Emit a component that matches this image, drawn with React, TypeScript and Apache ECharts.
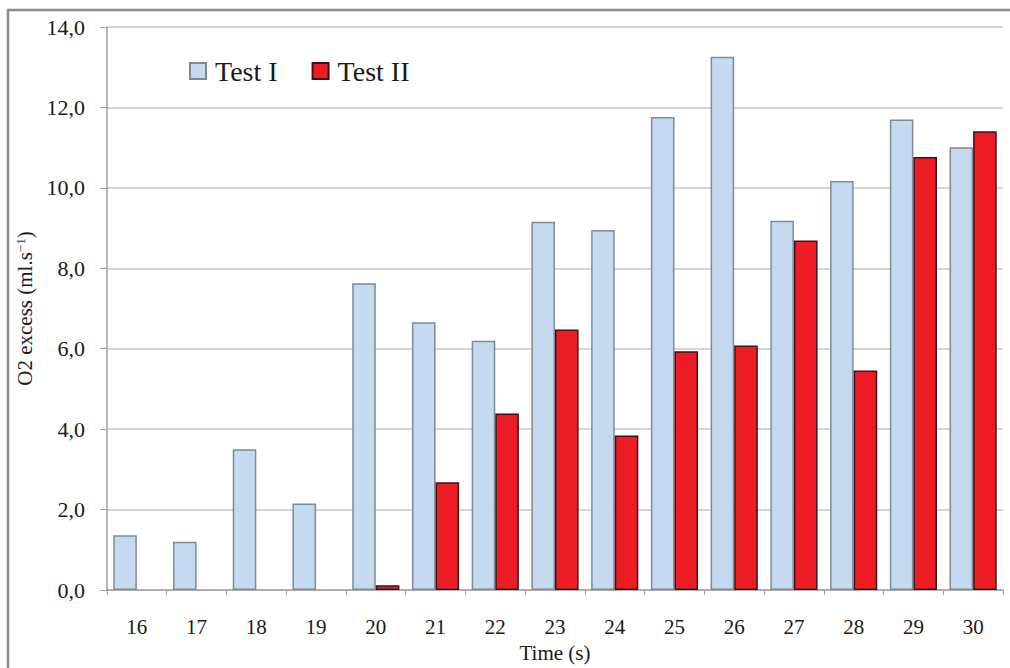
import React, { useEffect, useRef } from "react";
import * as echarts from "echarts";

const categories = ["16", "17", "18", "19", "20", "21", "22", "23", "24", "25", "26", "27", "28", "29", "30"];
const testI = [1.36, 1.2, 3.5, 2.15, 7.63, 6.66, 6.2, 9.16, 8.95, 11.76, 13.26, 9.18, 10.17, 11.7, 11.01];
const testII = [null, null, null, null, 0.12, 2.68, 4.39, 6.48, 3.84, 5.94, 6.08, 8.69, 5.46, 10.77, 11.41];
const yTicks = { min: 0, max: 14, interval: 2 };

const FONT = "Times New Roman, Liberation Serif, DejaVu Serif, serif";

export default function App() {
  const ref = useRef<HTMLDivElement>(null);
  useEffect(() => {
    if (!ref.current) return;
    const chart = echarts.init(ref.current, null, { renderer: "svg" });
    chart.setOption({
      animation: false,
      backgroundColor: "#ffffff",
      textStyle: { fontFamily: FONT },
      graphic: [
        {
          type: "rect",
          shape: { x: 8, y: 10, width: 1040, height: 720 },
          style: { fill: "none", stroke: "#8a8a8a", lineWidth: 2.5 },
          silent: true,
          z: -1,
        },
      ],
      legend: {
        left: 184,
        top: 52,
        icon: "rect",
        itemWidth: 16,
        itemHeight: 16,
        itemGap: 34,
        textStyle: { fontFamily: FONT, fontSize: 28, color: "#1a1a1a", padding: [0, 0, 0, 4] },
        data: ["Test I", "Test II"],
      },
      grid: { left: 107, right: 7, top: 27, bottom: 62, containLabel: false },
      xAxis: {
        type: "category",
        data: categories,
        name: "Time (s)",
        nameLocation: "middle",
        nameGap: 52,
        nameTextStyle: { fontFamily: FONT, fontSize: 21, color: "#1a1a1a" },
        axisLine: { lineStyle: { color: "#a0a0a0", width: 1.5 } },
        axisTick: { show: true, length: 5, lineStyle: { color: "#a0a0a0" } },
        axisLabel: { fontFamily: FONT, fontSize: 21, color: "#1a1a1a", margin: 26 },
      },
      yAxis: {
        type: "value",
        min: yTicks.min,
        max: yTicks.max,
        interval: yTicks.interval,
        name: "O2 excess (ml.s{sup|−1})",
        nameLocation: "middle",
        nameGap: 66,
        nameTextStyle: {
          fontFamily: FONT,
          fontSize: 21,
          color: "#1a1a1a",
          rich: {
            sup: { fontFamily: FONT, fontSize: 13, color: "#1a1a1a", verticalAlign: "top", padding: [0, 0, 10, 0] },
          },
        },
        axisLine: { show: true, lineStyle: { color: "#a0a0a0", width: 1.5 } },
        axisTick: { show: true, length: 7, lineStyle: { color: "#a0a0a0" } },
        splitLine: { lineStyle: { color: "#c8c8c8", width: 1.5 } },
        axisLabel: {
          fontFamily: FONT,
          fontSize: 22,
          color: "#1a1a1a",
          margin: 22,
          formatter: (v: number) => v.toFixed(1).replace(".", ","),
        },
      },
      series: [
        {
          name: "Test I",
          type: "bar",
          data: testI,
          barGap: "0%",
          barCategoryGap: "21%",
          itemStyle: { color: "#c5d9f1", borderColor: "#7f8a96", borderWidth: 1.5 },
        },
        {
          name: "Test II",
          type: "bar",
          data: testII,
          itemStyle: { color: "#ed1c24", borderColor: "#3a1414", borderWidth: 1.5 },
        },
      ],
    });
    return () => chart.dispose();
  }, []);
  return <div ref={ref} style={{ position: "fixed", left: 0, top: 0, width: 1010, height: 668 }} />;
}
